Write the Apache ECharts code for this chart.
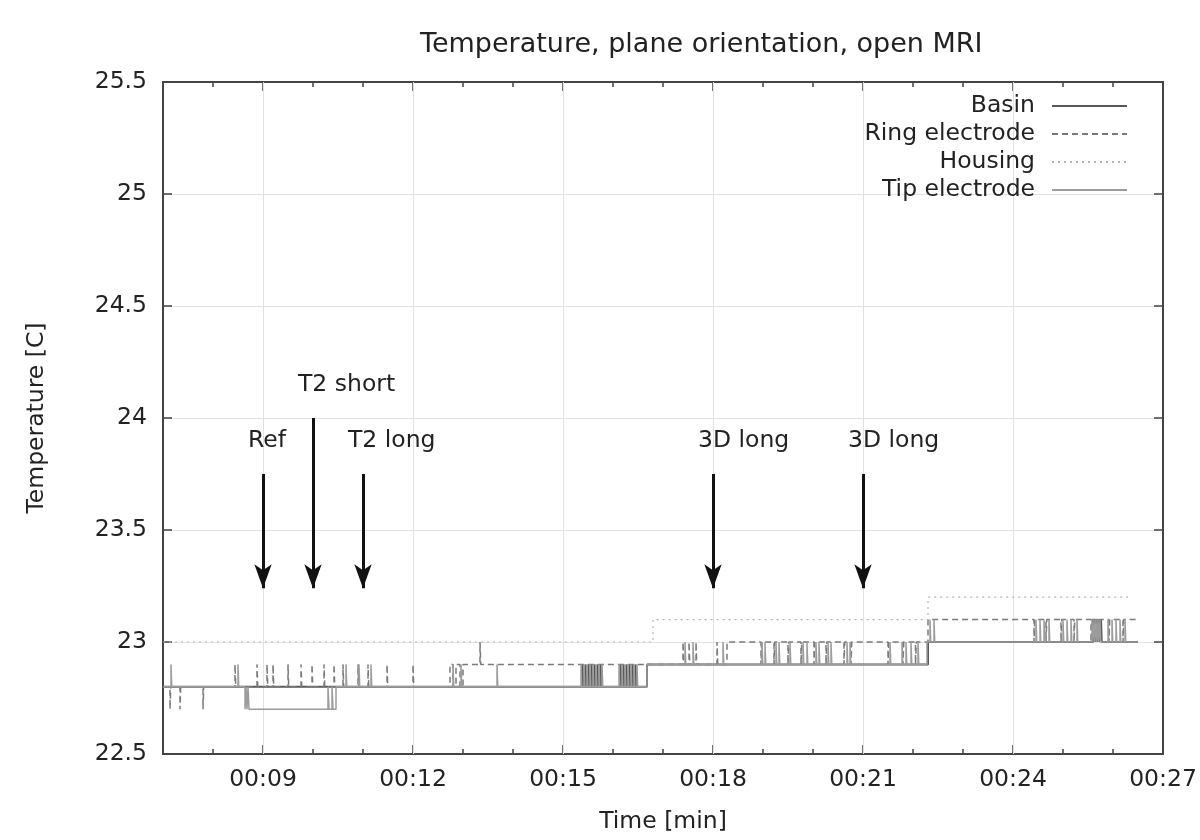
<!DOCTYPE html>
<html>
<head>
<meta charset="utf-8">
<title>Temperature, plane orientation, open MRI</title>
<script src="https://cdn.jsdelivr.net/npm/echarts@6/dist/echarts.min.js"></script>
<style>
  html, body { margin: 0; padding: 0; background: #fff; }
  #chart { width: 1200px; height: 840px; }
</style>
</head>
<body>
<div id="chart"></div>
<script>
// time in minutes, temperature in C (sensor steps of 0.1)
var basinData = [
  [7.0, 22.8],
  [15.39, 22.9], [15.405, 22.8], [15.45, 22.9], [15.465, 22.8], [15.51, 22.9], [15.525, 22.8],
  [15.57, 22.9], [15.585, 22.8], [15.63, 22.9], [15.645, 22.8], [15.69, 22.9], [15.705, 22.8],
  [15.75, 22.9], [15.765, 22.8],
  [16.15, 22.9], [16.165, 22.8], [16.21, 22.9], [16.225, 22.8], [16.27, 22.9], [16.285, 22.8],
  [16.33, 22.9], [16.345, 22.8], [16.39, 22.9], [16.405, 22.8], [16.45, 22.9], [16.465, 22.8],
  [16.68, 22.9], [22.3, 23.0],
  [25.6, 23.1], [25.615, 23.0], [25.64, 23.1], [25.655, 23.0], [25.68, 23.1], [25.695, 23.0],
  [25.72, 23.1], [25.735, 23.0], [25.76, 23.1], [25.775, 23.0],
  [26.5, 23.0]
]
var ringData = [
  [7.0, 22.8], [7.14, 22.7], [7.155, 22.8], [7.34, 22.7], [7.355, 22.8], [7.8, 22.7], [7.815, 22.8],
  [8.44, 22.9], [8.455, 22.8], [8.88, 22.9], [8.895, 22.8], [9.08, 22.9], [9.095, 22.8],
  [9.2, 22.9], [9.215, 22.8], [9.5, 22.9], [9.515, 22.8], [9.76, 22.9], [9.775, 22.8],
  [9.98, 22.9], [9.995, 22.8], [10.22, 22.9], [10.235, 22.8], [10.42, 22.9], [10.435, 22.8],
  [10.6, 22.9], [10.615, 22.8], [10.9, 22.9], [10.915, 22.8], [11.1, 22.9], [11.115, 22.8],
  [11.48, 22.9], [11.495, 22.8], [12.0, 22.9], [12.015, 22.8], [12.74, 22.9], [12.8, 22.8],
  [12.86, 22.9], [12.94, 22.8], [13.0, 22.9], [13.34, 23.0], [13.355, 22.9],
  [17.4, 23.0], [17.415, 22.9], [17.52, 23.0], [17.535, 22.9], [17.66, 23.0], [17.675, 22.9],
  [18.08, 23.0], [18.095, 22.9], [18.28, 23.0],
  [18.96, 22.9], [18.975, 23.0], [19.22, 22.9], [19.235, 23.0], [19.5, 22.9], [19.515, 23.0],
  [19.76, 22.9], [19.775, 23.0], [20.02, 22.9], [20.035, 23.0], [20.26, 22.9], [20.275, 23.0],
  [20.62, 22.9], [20.635, 23.0], [20.76, 22.9], [20.775, 23.0], [21.5, 22.9], [21.515, 23.0],
  [21.8, 22.9], [21.815, 23.0], [22.05, 22.9], [22.065, 23.0], [22.3, 23.1],
  [24.42, 23.0], [24.435, 23.1], [24.66, 23.0], [24.675, 23.1], [24.96, 23.0], [24.975, 23.1],
  [25.22, 23.0], [25.235, 23.1], [25.56, 23.0], [25.575, 23.1], [25.7, 23.0], [25.715, 23.1],
  [25.92, 23.0], [25.935, 23.1], [26.2, 23.0], [26.215, 23.1], [26.5, 23.1]
]
var housingData = [
  [7.0, 23.0], [16.8, 23.1], [22.3, 23.2], [26.3, 23.2]
]
var tipData = [
  [7.0, 22.8], [7.16, 22.9], [7.175, 22.8], [8.5, 22.9], [8.515, 22.8],
  [8.64, 22.7], [8.66, 22.8], [8.68, 22.7], [8.7, 22.8], [8.72, 22.7],
  [10.3, 22.8], [10.32, 22.7], [10.38, 22.8], [10.4, 22.7], [10.46, 22.8],
  [10.66, 22.9], [10.675, 22.8], [10.92, 22.9], [10.935, 22.8], [11.16, 22.9], [11.175, 22.8],
  [12.8, 22.9], [12.815, 22.8], [12.96, 22.9], [12.975, 22.8], [13.68, 22.9], [13.695, 22.8],
  [15.36, 22.9], [15.375, 22.8], [15.42, 22.9], [15.435, 22.8], [15.48, 22.9], [15.495, 22.8],
  [15.54, 22.9], [15.555, 22.8], [15.6, 22.9], [15.615, 22.8], [15.66, 22.9], [15.675, 22.8],
  [15.72, 22.9], [15.735, 22.8], [15.78, 22.9], [15.795, 22.8],
  [16.12, 22.9], [16.135, 22.8], [16.18, 22.9], [16.195, 22.8], [16.24, 22.9], [16.255, 22.8],
  [16.3, 22.9], [16.315, 22.8], [16.36, 22.9], [16.375, 22.8], [16.42, 22.9], [16.435, 22.8],
  [16.48, 22.9], [16.495, 22.8], [16.68, 22.9],
  [17.44, 23.0], [17.455, 22.9], [17.6, 23.0], [17.615, 22.9], [18.2, 23.0], [18.215, 22.9],
  [18.98, 23.0], [18.995, 22.9], [19.04, 23.0], [19.055, 22.9], [19.26, 23.0], [19.275, 22.9],
  [19.32, 23.0], [19.335, 22.9], [19.54, 23.0], [19.555, 22.9], [19.8, 23.0], [19.815, 22.9],
  [19.88, 23.0], [19.895, 22.9], [20.06, 23.0], [20.075, 22.9], [20.12, 23.0], [20.135, 22.9],
  [20.3, 23.0], [20.315, 22.9], [20.36, 23.0], [20.375, 22.9], [20.68, 23.0], [20.695, 22.9],
  [20.74, 23.0], [20.755, 22.9], [21.54, 23.0], [21.555, 22.9], [21.78, 23.0], [21.795, 22.9],
  [21.86, 23.0], [21.875, 22.9], [21.96, 23.0], [21.975, 22.9], [22.1, 23.0], [22.115, 22.9],
  [22.28, 23.0], [22.34, 23.1], [22.355, 23.0], [22.42, 23.1], [22.435, 23.0],
  [24.46, 23.1], [24.475, 23.0], [24.54, 23.1], [24.555, 23.0], [24.62, 23.1], [24.635, 23.0],
  [24.72, 23.1], [24.735, 23.0], [25.0, 23.1], [25.015, 23.0], [25.08, 23.1], [25.095, 23.0],
  [25.16, 23.1], [25.175, 23.0], [25.28, 23.1], [25.295, 23.0], [25.58, 23.1], [25.595, 23.0],
  [25.62, 23.1], [25.635, 23.0], [25.66, 23.1], [25.675, 23.0], [25.7, 23.1], [25.715, 23.0],
  [25.74, 23.1], [25.755, 23.0], [25.9, 23.1], [25.915, 23.0], [25.98, 23.1], [25.995, 23.0],
  [26.06, 23.1], [26.075, 23.0], [26.14, 23.1], [26.155, 23.0], [26.24, 23.1], [26.255, 23.0],
  [26.5, 23.0]
]

var seriesNames = ['Basin', 'Ring electrode', 'Housing', 'Tip electrode']

// x axis ticks (minutes)
var majorTicks = [9, 12, 15, 18, 21, 24, 27]
var minorTicks = [8, 10, 11, 13, 14, 16, 17, 19, 20, 22, 23, 25, 26]
var gridTimes = [9, 12, 15, 18, 21, 24]

// scan annotations
var arrowTimes = [9, 10, 11, 18, 21]
var arrowTops = [23.75, 24.0, 23.75, 23.75, 23.75]
var arrowBottom = 23.24
var arrowLabels = ['Ref', 'T2 short', 'T2 long', '3D long', '3D long']
var labelLevels = [23.9, 24.15, 23.9, 23.9, 23.9]

var FONT = 'DejaVu Sans'
var FS = 23.5
var TXT = '#222'
var AX = '#444'

function pad2(v) {
  return (v < 10 ? '0' : '') + v
}

function xAxisCfg(pos, ticks, len, showLine, showLabel) {
  return {
    type: 'value',
    position: pos,
    min: 7,
    max: 27,
    axisLine: { show: showLine, lineStyle: { color: AX, width: 2 } },
    axisTick: { show: true, inside: true, length: len, customValues: ticks, lineStyle: { color: AX, width: 1.5 } },
    axisLabel: {
      show: showLabel,
      customValues: ticks,
      margin: 14,
      fontFamily: FONT,
      fontSize: FS,
      color: TXT,
      formatter: function (v) {
        return '00:' + pad2(Math.round(v))
      },
    },
    splitLine: { show: false },
  }
}

function yAxisCfg(pos, showLabel) {
  return {
    type: 'value',
    position: pos,
    min: 22.5,
    max: 25.5,
    interval: 0.5,
    axisLine: { show: true, lineStyle: { color: AX, width: 2 } },
    axisTick: { show: true, inside: true, length: 9, lineStyle: { color: AX, width: 1.5 } },
    axisLabel: { show: showLabel, margin: 16, fontFamily: FONT, fontSize: FS, color: TXT },
    splitLine: { show: showLabel, lineStyle: { color: '#e2e2e2', width: 1 } },
  }
}

var xAxes = [
  xAxisCfg('bottom', majorTicks, 9, true, true),
  xAxisCfg('top', majorTicks, 9, true, false),
  xAxisCfg('bottom', minorTicks, 5, false, false),
  xAxisCfg('top', minorTicks, 5, false, false),
]
xAxes[0].name = 'Time [min]'
xAxes[0].nameLocation = 'middle'
xAxes[0].nameGap = 56
xAxes[0].nameTextStyle = { fontFamily: FONT, fontSize: FS, color: TXT }

var yAxes = [yAxisCfg('left', true), yAxisCfg('right', false)]
yAxes[0].name = 'Temperature [C]'
yAxes[0].nameLocation = 'middle'
yAxes[0].nameGap = 114
yAxes[0].nameTextStyle = { fontFamily: FONT, fontSize: FS, color: TXT }

function stepSeries(name, data, color, width, type) {
  return {
    name: name,
    type: 'line',
    step: 'end',
    data: data,
    symbol: 'none',
    z: 3,
    lineStyle: { color: color, width: width, type: type },
    itemStyle: { color: color },
  }
}

var gridLineData = gridTimes.map(function (t) {
  return { xAxis: t }
})

var arrowLineData = arrowTimes.map(function (t, i) {
  return [{ coord: [t, arrowTops[i]] }, { coord: [t, arrowBottom], symbolSize: [13, 24] }]
})

var arrowLabelData = arrowTimes.map(function (t, i) {
  return { name: arrowLabels[i], coord: [t, labelLevels[i]] }
})

var option = {
  animation: false,
  backgroundColor: '#fff',
  title: {
    text: 'Temperature, plane orientation, open MRI',
    left: 415,
    top: 26,
    textStyle: { fontFamily: FONT, fontSize: 27, fontWeight: 'normal', color: TXT },
  },
  legend: {
    data: seriesNames,
    orient: 'vertical',
    align: 'right',
    right: 67,
    top: 89,
    itemWidth: 75,
    itemHeight: 10,
    itemGap: 4,
    itemStyle: { opacity: 0 },
    textStyle: { fontFamily: FONT, fontSize: FS, color: TXT, lineHeight: 23, padding: [0, 12, 0, 0] },
  },
  grid: {
    left: 163,
    right: 37,
    top: 82,
    bottom: 86,
    show: true,
    borderColor: AX,
    borderWidth: 2,
  },
  xAxis: xAxes,
  yAxis: yAxes,
  series: [
    {
      name: 'gridlines',
      type: 'line',
      data: [],
      silent: true,
      markLine: {
        silent: true,
        z: 1,
        symbol: ['none', 'none'],
        label: { show: false },
        lineStyle: { color: '#e2e2e2', width: 1, type: 'solid' },
        data: gridLineData,
      },
    },
    stepSeries(seriesNames[0], basinData, '#585858', 2, 'solid'),
    stepSeries(seriesNames[1], ringData, '#7a7a7a', 1.5, [6, 4]),
    stepSeries(seriesNames[2], housingData, '#b4b4b4', 1.2, [2, 4]),
    stepSeries(seriesNames[3], tipData, '#9c9c9c', 1.5, 'solid'),
    {
      name: 'scans',
      type: 'line',
      data: [],
      silent: true,
      markLine: {
        silent: true,
        z: 6,
        symbol: ['none', 'arrow'],
        symbolSize: 16,
        label: { show: false },
        lineStyle: { color: '#111', width: 3, type: 'solid' },
        data: arrowLineData,
      },
      markPoint: {
        silent: true,
        symbol: 'circle',
        symbolSize: 0,
        label: {
          show: true,
          position: 'right',
          distance: 0,
          offset: [-15, 0],
          formatter: '{b}',
          fontFamily: FONT,
          fontSize: FS,
          color: TXT,
        },
        data: arrowLabelData,
      },
    },
  ],
}

var chart = echarts.init(document.getElementById('chart'))
chart.setOption(option)
</script>
</body>
</html>
